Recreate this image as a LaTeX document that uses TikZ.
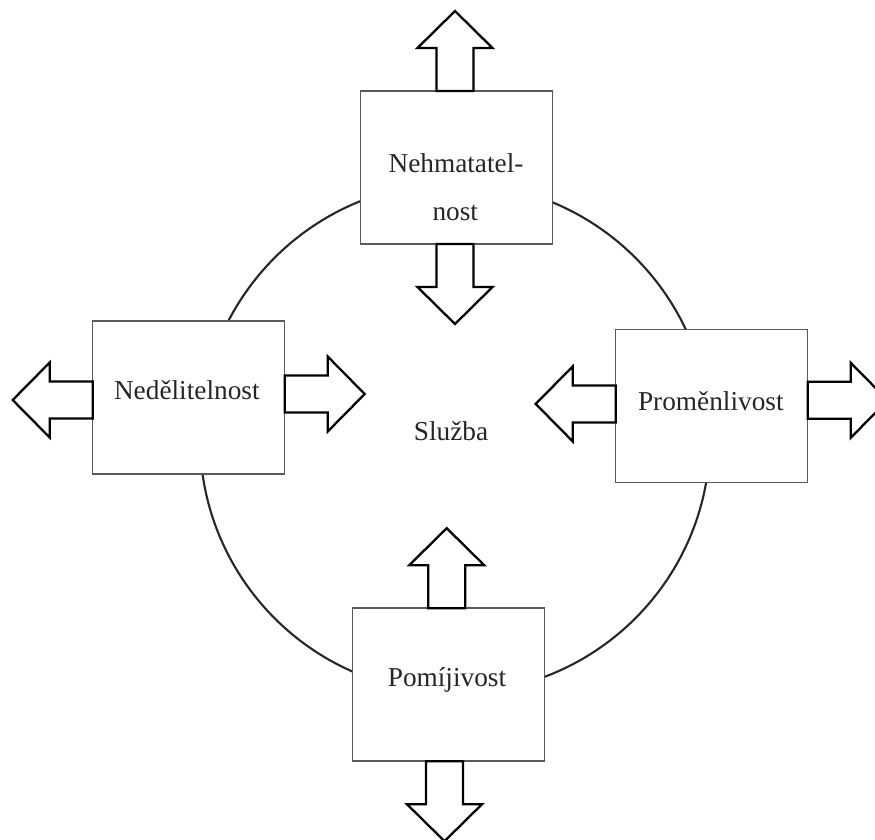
\documentclass[tikz,border=0pt]{standalone}
\usepackage{fontspec}
\setmainfont{Liberation Serif}
\begin{document}
\begin{tikzpicture}[x=1pt,y=-1pt,
  ring/.style={line width=2.1pt,draw=black!85},
  factor/.style={draw=black!65,line width=1.5pt,fill=white,
    minimum width=192pt,minimum height=153pt,inner sep=0pt,outer sep=0pt},
  lbl/.style={anchor=base,text=black!85,font=\fontsize{27.3}{30}\selectfont},
  arrowline/.style={draw=black,line width=2.3pt,fill=white,line join=miter},
  blockarrow/.pic={
    \draw[arrowline] (0,-18.5) -- (43,-18.5) -- (43,-37.5) -- (80,0)
      -- (43,37.5) -- (43,18.5) -- (0,18.5) -- cycle;
  }]
\useasboundingbox (0,0) rectangle (875,839);
\clip (0,0) rectangle (875,839);

% central circle standing for the service
\node[circle,ring,minimum size=510pt,inner sep=0pt] (ring) at (455,438) {};

% the four characteristics
\node[factor] (nt) at (456.7,167.5) {};
\node[factor] (nl) at (188.7,397.3) {};
\node[factor] (nr) at (711.7,405.8) {};
\node[factor] (nb) at (448.5,684.7) {};

% block arrows leaving each box
\pic[rotate=90]  at ([xshift=-1.7pt]nt.north) {blockarrow};
\pic[rotate=-90] at ([xshift=-1.7pt]nt.south) {blockarrow};
\pic[rotate=180] at ([yshift=-2.7pt]nl.west) {blockarrow};
\pic[rotate=0]   at ([yshift=3.3pt]nl.east) {blockarrow};
\pic[rotate=180] at ([yshift=1.9pt]nr.west) {blockarrow};
\pic[rotate=0]   at ([yshift=5.5pt]nr.east) {blockarrow};
\pic[rotate=90]  at ([xshift=-1.8pt]nb.north) {blockarrow};
\pic[rotate=-90] at ([xshift=-4pt]nb.south) {blockarrow};

% labels
\node[lbl] (t1) at (456,172) {Nehmatatel-};
\node[lbl] (t2) at (455.3,220) {nost};
\node[lbl] (tl) at (186.8,399.5) {Nedělitelnost};
\node[lbl] (tr) at (710.8,410) {Proměnlivost};
\node[lbl] (tb) at (447,686) {Pomíjivost};
\node[lbl] (tc) at (451,440.5) {Služba};
\end{tikzpicture}
\end{document}
